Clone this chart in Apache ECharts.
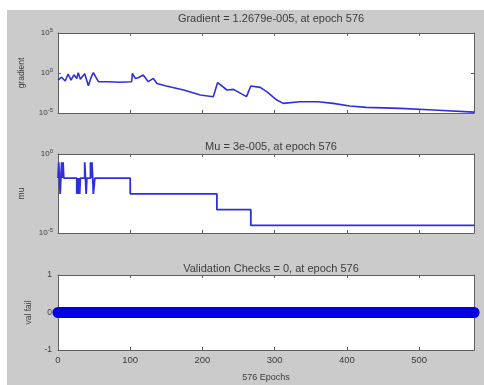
<!DOCTYPE html>
<html>
<head>
<meta charset="utf-8">
<script src="https://cdn.jsdelivr.net/npm/echarts@6/dist/echarts.min.js"></script>
<style>
  html, body { margin: 0; padding: 0; background: #fff; }
  #chart { width: 484px; height: 385px; }
</style>
</head>
<body>
<div id="chart"></div>
<script>
// gradient trace (epoch, gradient)
const gradEpochs = [0, 5, 10, 14, 18, 22, 26, 28, 31, 33, 37, 42, 46, 49, 53, 56, 70, 85, 102, 103, 107, 111, 118, 125, 132, 137, 150, 174, 197, 215, 221, 234, 243, 261, 267, 280, 289, 303, 312, 335, 360, 381, 404, 427, 474, 520, 576];
const gradValues = [0.13, 0.3, 0.1, 0.75, 0.13, 0.6, 0.2, 1.1, 0.16, 0.29, 0.8, 0.025, 0.3, 1.1, 0.25, 0.083, 0.08, 0.07, 0.08, 0.9, 0.21, 0.25, 0.56, 0.083, 0.21, 0.05, 0.024, 0.0075, 0.0018, 0.0011, 0.063, 0.0075, 0.009, 0.0011, 0.024, 0.016, 0.0047, 4.2e-4, 1.6e-4, 2.5e-4, 2.6e-4, 1.6e-4, 7.5e-5, 5.1e-5, 3.8e-5, 2.4e-5, 1.27e-5];

// mu steps (epoch where value starts, value)
const muEpochs = [0, 1, 2, 3, 4, 5, 6, 7, 8, 26, 27, 28, 29, 30, 31, 37, 38, 39, 40, 45, 46, 47, 48, 49, 50, 51, 100, 220, 267, 576];
const muValues = [0.03, 0.3, 0.03, 0.003, 0.03, 0.3, 0.03, 0.3, 0.03, 0.003, 0.03, 0.003, 0.03, 0.003, 0.03, 0.3, 0.03, 0.003, 0.03, 0.3, 0.03, 0.3, 0.03, 0.003, 0.003, 0.03, 0.003, 3e-4, 3e-5, 3e-5];

// validation fail checks: 0 at every epoch from first to last
const valEpochs = [0, 576];
const valFail = [0, 0];

const maxEpoch = 576;
const titles = ['Gradient = 1.2679e-005, at epoch 576', 'Mu = 3e-005, at epoch 576', 'Validation Checks = 0, at epoch 576'];

const font = 'Liberation Sans, Arial, sans-serif';
const txt = '#3c3c3c';
const boxColor = '#5f5f5f';
const blue = '#2f2fe0';

const grids = [
  { left: 58, top: 33, width: 416, height: 80 },
  { left: 58, top: 154, width: 416, height: 79 },
  { left: 58, top: 275, width: 416, height: 75 }
];

function powLabel(v) {
  const e = Math.round(Math.log10(v));
  return '{b|10}{e|' + e + '}';
}
const powRich = {
  b: { fontSize: 8, color: txt, fontFamily: font },
  e: { fontSize: 6, color: txt, fontFamily: font, padding: [0, 0, 6, 0] }
};

const xAxes = [];
const yAxes = [];
grids.forEach((g, i) => {
  const bottomLabels = i === 2;
  xAxes.push({
    type: 'value', gridIndex: i, min: 0, max: maxEpoch, interval: 100,
    axisLine: { onZero: false, lineStyle: { color: boxColor, width: 1 } },
    axisTick: { inside: true, length: 3, lineStyle: { color: boxColor } },
    axisLabel: { show: bottomLabels, showMaxLabel: false, fontSize: 9.5, color: txt, fontFamily: font, margin: 5 },
    splitLine: { show: false },
    name: bottomLabels ? '576 Epochs' : '',
    nameLocation: 'middle', nameGap: 23,
    nameTextStyle: { fontSize: 9, color: txt, fontFamily: font }
  });
  xAxes.push({
    type: 'value', gridIndex: i, position: 'top', min: 0, max: maxEpoch, interval: 100,
    axisLine: { onZero: false, lineStyle: { color: boxColor, width: 1 } },
    axisTick: { inside: true, length: 3, lineStyle: { color: boxColor } },
    axisLabel: { show: false }, splitLine: { show: false }
  });
});

function logAxis(gi, lo, hi, name, side) {
  const right = side === 'right';
  return {
    type: 'log', gridIndex: gi, position: side, min: lo, max: hi, interval: 5,
    axisLine: { onZero: false, lineStyle: { color: boxColor } },
    axisTick: { inside: true, length: 3, lineStyle: { color: boxColor } },
    axisLabel: right ? { show: false } : { formatter: powLabel, rich: powRich, margin: 5 },
    minorTick: { show: false }, splitLine: { show: false },
    name: right ? '' : name, nameLocation: 'middle', nameGap: 32,
    nameTextStyle: { fontSize: 8.5, color: txt, fontFamily: font }
  };
}
function linAxis(gi, name, side) {
  const right = side === 'right';
  return {
    type: 'value', gridIndex: gi, position: side, min: -1, max: 1, interval: 1,
    axisLine: { onZero: false, lineStyle: { color: boxColor } },
    axisTick: { inside: true, length: 3, lineStyle: { color: boxColor } },
    axisLabel: right ? { show: false } : { fontSize: 8.5, color: txt, fontFamily: font, margin: 6 },
    splitLine: { show: false },
    name: right ? '' : name, nameLocation: 'middle', nameGap: 23,
    nameTextStyle: { fontSize: 8.5, color: txt, fontFamily: font }
  };
}
yAxes.push(logAxis(0, 1e-5, 1e5, 'gradient', 'left'));
yAxes.push(logAxis(0, 1e-5, 1e5, '', 'right'));
yAxes.push(logAxis(1, 1e-5, 1, 'mu', 'left'));
yAxes.push(logAxis(1, 1e-5, 1, '', 'right'));
yAxes.push(linAxis(2, 'val fail', 'left'));
yAxes.push(linAxis(2, '', 'right'));

const chart = echarts.init(document.getElementById('chart'), null, { renderer: 'canvas' });
chart.setOption({
  backgroundColor: '#ffffff',
  animation: false,
  graphic: [{
    type: 'rect', left: 7, top: 10, z: -10,
    shape: { width: 477, height: 375 },
    style: { fill: '#cbcbcb' }
  }],
  title: titles.map((t, i) => ({
    text: t, left: 266, textAlign: 'center', top: [8, 136, 258][i],
    textStyle: { fontSize: 11, fontWeight: 'normal', color: txt, fontFamily: font }
  })),
  grid: grids.map(g => Object.assign({ backgroundColor: '#ffffff', show: true, borderWidth: 0 }, g)),
  xAxis: xAxes,
  yAxis: yAxes,
  series: [
    {
      type: 'line', xAxisIndex: 0, yAxisIndex: 0, showSymbol: false,
      data: gradEpochs.map((e, i) => [e, gradValues[i]]),
      lineStyle: { color: blue, width: 1.6 }
    },
    {
      type: 'line', xAxisIndex: 2, yAxisIndex: 2, showSymbol: false, step: 'end',
      data: muEpochs.map((e, i) => [e, muValues[i]]),
      lineStyle: { color: blue, width: 1.8 }
    },
    {
      type: 'line', xAxisIndex: 4, yAxisIndex: 4, showSymbol: false, clip: false,
      data: valEpochs.map((e, i) => [e, valFail[i]]),
      lineStyle: { color: '#0000e0', width: 11, cap: 'round' }
    },
    {
      type: 'scatter', xAxisIndex: 4, yAxisIndex: 4, clip: false, symbolSize: 10,
      data: [[valEpochs[valEpochs.length - 1], valFail[valFail.length - 1]]],
      itemStyle: { color: '#5a20d0', borderColor: '#e04080', borderWidth: 1 }
    }
  ]
});
</script>
</body>
</html>
